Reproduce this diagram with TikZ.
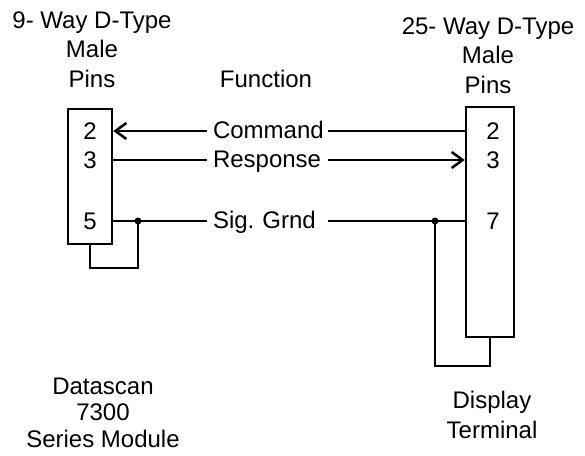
\documentclass[tikz,border=0pt]{standalone}
\usepackage{fontspec}
\setmainfont{Liberation Sans}
\usetikzlibrary{arrows.meta}

\begin{document}
\begin{tikzpicture}[x=1pt, y=-1pt, font=\fontsize{24}{29.5}\selectfont,
	stecker/.style={draw, line width=2.5pt, inner sep=0pt},
	funktion/.style={text width=109pt, inner xsep=6pt, inner ysep=0pt,
		align=left, text height=16pt, text depth=2pt},
	leitung/.style={line width=2.5pt},
	>={Straight Barb[length=11pt,width=16pt]}]
	\useasboundingbox (0,0) rectangle (585,455);
	% Ueberschriften
	\node[align=center, anchor=base] (kopfl) at (92,87) {9- Way D-Type\\Male\\Pins};
	\node[align=center, anchor=base] (kopfr) at (488,93) {25- Way D-Type\\Male\\Pins};
	\node[anchor=base] (fkt) at (266,87) {Function};

	% Steckerkoerper
	\node[stecker, minimum width=44pt, minimum height=135pt] (ds) at (90,176.5) {};
	\node[stecker, minimum width=48pt, minimum height=230pt] (dt) at (490,222) {};

	% Pinnummern
	\foreach \n/\y in {2/131,3/160,5/221}
		\node (ds\n) at (90,\y) {\n};
	\foreach \n/\y in {2/131,3/160,7/221}
		\node (dt\n) at (493,\y) {\n};

	% Signale
	\node[funktion] (cmd) at (267.5,131) {Command};
	\node[funktion] (rsp) at (267.5,160) {Response};
	\node[funktion] (gnd) at (267.5,221) {Sig.\ Grnd};
	\draw[leitung, <-] (ds.east |- cmd.west) -- (cmd.west);
	\draw[leitung] (cmd.east) -- (dt.west |- cmd.east);
	\draw[leitung] (ds.east |- rsp.west) -- (rsp.west);
	\draw[leitung, ->] (rsp.east) -- (dt.west |- rsp.east);
	\draw[leitung] (ds.east |- gnd.west) -- (gnd.west);
	\draw[leitung] (gnd.east) -- (dt.west |- gnd.east);

	% Massebruecken
	\coordinate (kl) at (138,221);
	\coordinate (kr) at (435,221);
	\coordinate (ul) at (138,268);
	\coordinate (ur) at (435,366);
	\draw[leitung] (kl) -- (ul) -| (ds.south);
	\draw[leitung] (kr) -- (ur) -| (dt.south);
	\fill (kl) circle (3.5pt);
	\fill (kr) circle (3.5pt);

	% Geraete
	\node[align=center, anchor=base, font=\fontsize{24}{26.5}\selectfont] (modul)
		at (103,447) {Datascan\\7300\\Series Module};
	\node[align=center, anchor=base] (term) at (492,438) {Display\\Terminal};
\end{tikzpicture}
\end{document}
